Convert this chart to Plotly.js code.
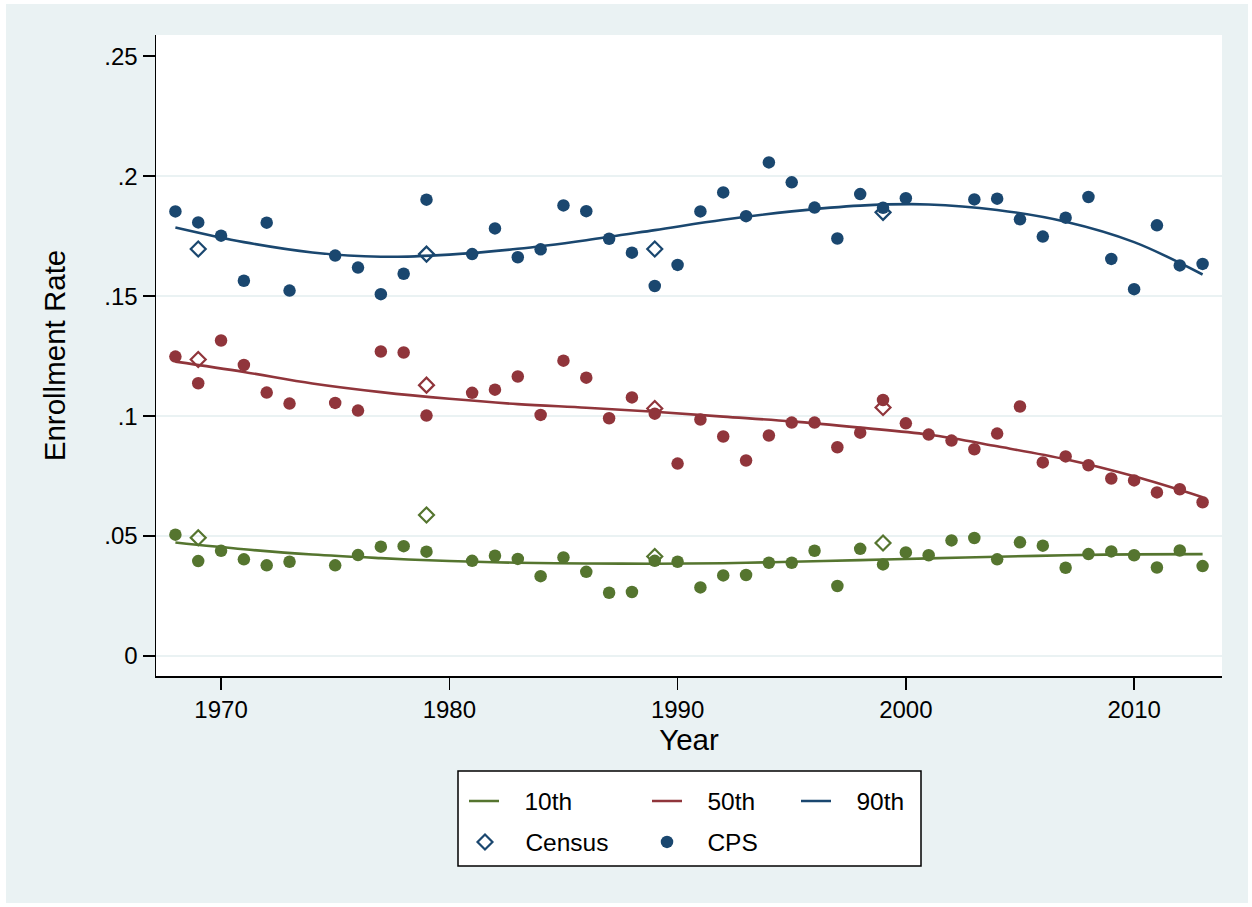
<!DOCTYPE html>
<html>
<head>
<meta charset="utf-8">
<script src="https://cdn.plot.ly/plotly-3.0.1.min.js"></script>
<style>html,body{margin:0;padding:0;background:#fff;}#chart{width:1252px;height:907px;}</style>
</head>
<body>
<div id="chart"></div>
<script>
// ---- Data ----
var cpsYears = [1968,1969,1970,1971,1972,1973,1975,1976,1977,1978,1979,1981,1982,1983,1984,1985,1986,1987,1988,1989,1990,1991,1992,1993,1994,1995,1996,1997,1998,1999,2000,2001,2002,2003,2004,2005,2006,2007,2008,2009,2010,2011,2012,2013];
var cps10 = [0.0506,0.0396,0.0439,0.0403,0.0378,0.0393,0.0378,0.0421,0.0456,0.0458,0.0435,0.0397,0.0418,0.0405,0.0333,0.0411,0.0351,0.0264,0.0267,0.0397,0.0393,0.0286,0.0336,0.0338,0.0389,0.0389,0.0439,0.0292,0.0447,0.0382,0.0432,0.0420,0.0482,0.0492,0.0403,0.0474,0.0460,0.0368,0.0425,0.0436,0.0420,0.0369,0.0440,0.0375];
var cps50 = [0.1248,0.1137,0.1315,0.1213,0.1098,0.1052,0.1055,0.1023,0.1269,0.1265,0.1002,0.1097,0.1110,0.1165,0.1005,0.1231,0.1160,0.0991,0.1078,0.1010,0.0802,0.0986,0.0915,0.0815,0.0919,0.0973,0.0973,0.0870,0.0931,0.1067,0.0970,0.0923,0.0898,0.0862,0.0927,0.1040,0.0807,0.0832,0.0795,0.0740,0.0732,0.0682,0.0695,0.0641];
var cps90Years = [1968,1969,1970,1971,1972,1973,1975,1976,1977,1978,1979,1981,1982,1983,1984,1985,1986,1987,1988,1989,1990,1991,1992,1993,1994,1995,1996,1997,1998,1999,2000,2003,2004,2005,2006,2007,2008,2009,2010,2011,2012,2013];
var cps90 = [0.1853,0.1807,0.1752,0.1564,0.1806,0.1523,0.1669,0.1619,0.1508,0.1593,0.1902,0.1675,0.1782,0.1662,0.1695,0.1878,0.1854,0.1739,0.1681,0.1542,0.1630,0.1853,0.1932,0.1833,0.2057,0.1974,0.1869,0.1740,0.1925,0.1868,0.1908,0.1903,0.1906,0.1820,0.1748,0.1827,0.1913,0.1655,0.1529,0.1795,0.1628,0.1634];

var censusYears = [1969,1979,1989,1999];
var census10 = [0.0493,0.0588,0.0415,0.0471];
var census50 = [0.1236,0.1129,0.1032,0.1036];
var census90 = [0.1696,0.1675,0.1696,0.1849];

var fitYears = [1968,1971,1974,1977,1980,1983,1986,1989,1992,1995,1998,2001,2004,2007,2010,2013];
var fit10 = [0.0473,0.0445,0.0423,0.0408,0.0396,0.0389,0.0386,0.0385,0.0387,0.0393,0.0400,0.0407,0.0414,0.0420,0.0424,0.0425];
var fit50 = [0.1227,0.1184,0.1136,0.1100,0.1072,0.1050,0.1035,0.1018,0.0998,0.0978,0.0952,0.0923,0.0874,0.0820,0.0749,0.0662];
var fit90 = [0.1786,0.1725,0.1682,0.1664,0.1673,0.1697,0.1733,0.1775,0.1818,0.1853,0.1877,0.1882,0.1859,0.1810,0.1725,0.1590];

var yTickVals = [0,0.05,0.1,0.15,0.2,0.25];
var yTickText = ['0','.05','.1','.15','.2','.25'];
var yGridVals = [0,0.05,0.1,0.15,0.2];
var xTickVals = [1970,1980,1990,2000,2010];
var seriesNames = ['10th','50th','90th'];
var sourceNames = ['Census','CPS'];

// ---- Styles ----
var GREEN = '#55752f', RED = '#90353b', NAVY = '#1a476f';
var BG = '#eaf2f3';
var FONT = 'Liberation Sans, Arial, Helvetica, sans-serif';
var PAD = '\u00a0\u00a0\u00a0';

function fitLine(y, color, name, leg) {
  return {x: fitYears, y: y, type: 'scatter', mode: 'lines', name: PAD + name, legend: leg,
          line: {color: color, width: 2.6, shape: 'spline', smoothing: 1}, hoverinfo: 'skip'};
}
function censusPts(y, color, show) {
  return {x: censusYears, y: y, type: 'scatter', mode: 'markers', name: PAD + sourceNames[0],
          legend: 'legend4', showlegend: show,
          marker: {symbol: 'diamond-open', size: 11.5, color: color, line: {width: 2.2, color: color}}};
}
function cpsPts(x, y, color, show) {
  return {x: x, y: y, type: 'scatter', mode: 'markers', name: PAD + sourceNames[1],
          legend: 'legend5', showlegend: show,
          marker: {symbol: 'circle', size: 12.5, color: color, line: {width: 0}}};
}

var traces = [
  {x: [], y: [], type: 'scatter', yaxis: 'y2', showlegend: false, hoverinfo: 'skip'},
  fitLine(fit10, GREEN, seriesNames[0], 'legend'),
  fitLine(fit50, RED, seriesNames[1], 'legend2'),
  fitLine(fit90, NAVY, seriesNames[2], 'legend3'),
  censusPts(census10, GREEN, false),
  censusPts(census50, RED, false),
  censusPts(census90, NAVY, true),
  cpsPts(cpsYears, cps10, GREEN, false),
  cpsPts(cpsYears, cps50, RED, false),
  cpsPts(cps90Years, cps90, NAVY, true)
];

// pixel helpers for paper coordinates (plot area: x 156..1222, y 35..676)
var L = 156, R = 30, T = 35, B = 231, W = 1252, H = 907;
var PW = W - L - R, PH = H - T - B;
function px(x) { return (x - L) / PW; }
function py(y) { return (T + PH - y) / PH; }

function legendAt(xp, yp) {
  return {x: px(xp), y: py(yp), xanchor: 'left', yanchor: 'middle', orientation: 'h',
          bgcolor: 'rgba(0,0,0,0)', borderwidth: 0, itemwidth: 30,
          font: {family: FONT, size: 24.5, color: '#000'}};
}

var layout = {
  width: W, height: H,
  margin: {l: L, r: R, t: T, b: B, pad: 0},
  paper_bgcolor: '#ffffff',
  plot_bgcolor: '#ffffff',
  font: {family: FONT, size: 24, color: '#000'},
  xaxis: {
    range: [1967.15, 2013.85], tickmode: 'array', tickvals: xTickVals,
    showgrid: false, zeroline: false, showline: true, linecolor: '#000', linewidth: 1.5,
    ticks: 'outside', ticklen: 12, tickwidth: 1.5, tickcolor: '#000',
    tickfont: {family: FONT, size: 24, color: '#000'},
    title: {text: 'Year', font: {family: FONT, size: 29.5, color: '#000'}, standoff: 1}
  },
  yaxis: {
    range: [-0.0083, 0.2588], tickmode: 'array', tickvals: yTickVals, ticktext: yTickText,
    showgrid: false, zeroline: false, showline: true, linecolor: '#000', linewidth: 1.5,
    ticks: 'outside', ticklen: 12, tickwidth: 1.5, tickcolor: '#000',
    tickfont: {family: FONT, size: 24, color: '#000'},
    title: {text: 'Enrollment Rate', font: {family: FONT, size: 29.5, color: '#000'}, standoff: 30}
  },
  yaxis2: {
    overlaying: 'y', range: [-0.0083, 0.2588], tickmode: 'array', tickvals: yGridVals,
    showgrid: true, gridcolor: BG, gridwidth: 2, zeroline: false, showline: false,
    showticklabels: false, ticks: ''
  },
  showlegend: true,
  legend: legendAt(464, 801),
  legend2: legendAt(647, 801),
  legend3: legendAt(796, 801),
  legend4: legendAt(465, 842),
  legend5: legendAt(647, 842),
  shapes: [
    {type: 'rect', xref: 'paper', yref: 'paper', layer: 'below',
     x0: px(6), x1: px(1248), y0: py(903), y1: py(4), fillcolor: BG, line: {width: 0}},
    {type: 'rect', xref: 'paper', yref: 'paper', layer: 'below',
     x0: 0, x1: 1, y0: 0, y1: 1, fillcolor: '#ffffff', line: {width: 0}},
    {type: 'rect', xref: 'paper', yref: 'paper', layer: 'below',
     x0: px(458), x1: px(921), y0: py(866), y1: py(771), fillcolor: '#ffffff',
     line: {color: '#000', width: 1.5}}
  ]
};

Plotly.newPlot('chart', traces, layout, {displayModeBar: false, staticPlot: true});
</script>
</body>
</html>
